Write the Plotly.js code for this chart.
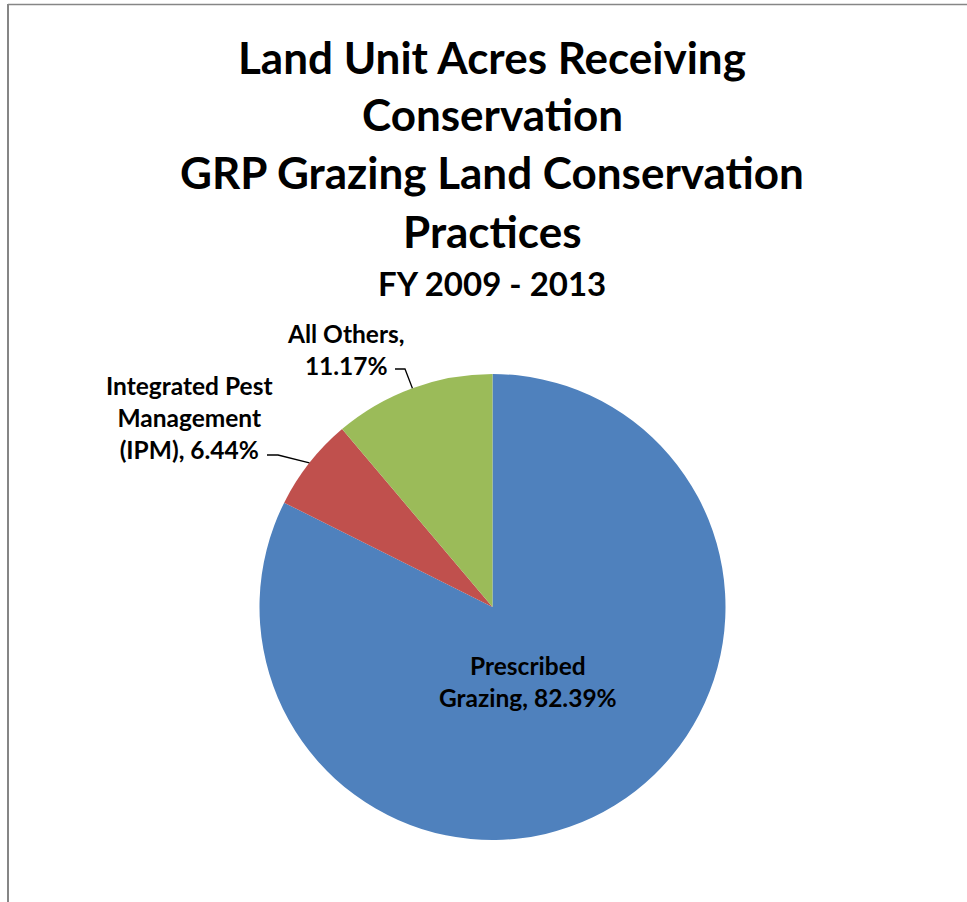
<!DOCTYPE html>
<html>
<head>
<meta charset="utf-8">
<script src="https://cdn.plot.ly/plotly-3.0.1.min.js"></script>
<style>html,body{margin:0;padding:0;background:#fff;}#chart{width:967px;height:902px;}</style>
</head>
<body>
<div id="chart"></div>
<script>
// ---- data ----
const categories = ["Prescribed Grazing", "Integrated Pest Management (IPM)", "All Others"];
const values = [82.39, 6.44, 11.17];
const labelTexts = ["Prescribed<br>Grazing, 82.39%", "Integrated Pest<br>Management<br>(IPM), 6.44%", "All Others,<br>11.17%"];
const colors = ["#4F81BD", "#C0504D", "#9BBB59"];
const titleLines = ["Land Unit Acres Receiving", "Conservation", "GRP Grazing Land Conservation", "Practices"];
const subtitle = "FY 2009 - 2013";

// ---- layout constants (pixels) ----
const W = 967, H = 902;
const cx = 492.5, cy = 607, R = 233;
const FONT = "Lato, 'Open Sans', sans-serif";
const px = x => x / W;
const py = y => 1 - y / H;

// label placement (pixels): label centre, leader elbow, leader start
const labelPlace = [
  {inside: true, x: 528, y: 681},
  {x: 189, y: 417, ex: 278, ey: 455, sx: 267},
  {x: 346, y: 349, ex: 405, ey: 369, sx: 395}
];

const total = values.reduce((a, b) => a + b, 0);
const annotations = [];
const shapes = [];
let cum = 0;
values.forEach((v, i) => {
  const mid = (cum + v / 2) / total * 2 * Math.PI; // clockwise from top
  cum += v;
  const lp = labelPlace[i];
  annotations.push({
    xref: 'paper', yref: 'paper', x: px(lp.x), y: py(lp.y),
    xanchor: 'center', yanchor: 'middle', align: 'center', showarrow: false,
    text: '<b>' + labelTexts[i] + '</b>',
    font: {family: FONT, size: 24.5, color: '#000'}
  });
  if (!lp.inside) {
    const ptx = cx + R * Math.sin(mid), pty = cy - R * Math.cos(mid);
    shapes.push({
      type: 'path', xref: 'paper', yref: 'paper',
      path: `M ${px(lp.sx)} ${py(lp.ey)} L ${px(lp.ex)} ${py(lp.ey)} L ${px(ptx)} ${py(pty)}`,
      line: {color: '#000', width: 1.3}
    });
  }
});

// title lines (centres in px)
const titleY = [57, 114, 172, 231];
titleLines.forEach((t, i) => {
  annotations.push({
    xref: 'paper', yref: 'paper', x: px(492), y: py(titleY[i]),
    xanchor: 'center', yanchor: 'middle', showarrow: false,
    text: '<b>' + t + '</b>',
    font: {family: FONT, size: 44, color: '#000'}
  });
});
annotations.push({
  xref: 'paper', yref: 'paper', x: px(492), y: py(283),
  xanchor: 'center', yanchor: 'middle', showarrow: false,
  text: '<b>' + subtitle + '</b>',
  font: {family: FONT, size: 33, color: '#000'}
});

// chart border (left + top visible)
shapes.push({type: 'line', xref: 'paper', yref: 'paper', x0: px(8), x1: px(8), y0: py(4), y1: 0, line: {color: '#868686', width: 2}});
shapes.push({type: 'line', xref: 'paper', yref: 'paper', x0: px(8), x1: 1, y0: py(4.5), y1: py(4.5), line: {color: '#868686', width: 1.5}});

const trace = {
  type: 'pie',
  labels: categories,
  values: values,
  sort: false,
  direction: 'clockwise',
  rotation: 0,
  marker: {colors: colors, line: {width: 0}},
  textinfo: 'none',
  hoverinfo: 'label+percent',
  domain: {x: [px(cx - R), px(cx + R)], y: [py(cy + R), py(cy - R)]}
};

const layout = {
  width: W, height: H,
  margin: {l: 0, r: 0, t: 0, b: 0},
  paper_bgcolor: '#fff',
  showlegend: false,
  annotations: annotations,
  shapes: shapes,
  font: {family: FONT}
};

Plotly.newPlot('chart', [trace], layout, {displayModeBar: false, staticPlot: true});
</script>
</body>
</html>
